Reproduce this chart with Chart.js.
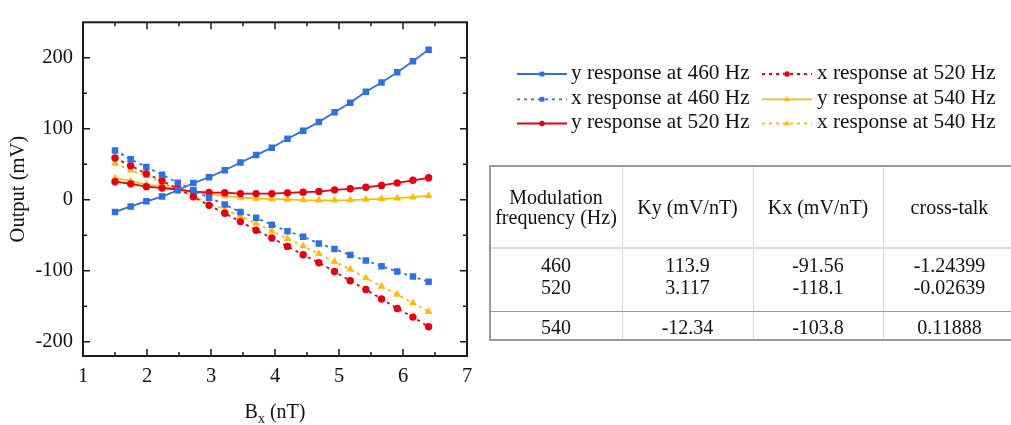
<!DOCTYPE html>
<html><head><meta charset="utf-8">
<script src="https://cdn.jsdelivr.net/npm/chart.js@4"></script>
<style>
html,body{margin:0;padding:0;background:#fff;overflow:hidden;width:1011px;height:425px}
#wrap{position:relative;width:1011px;height:425px;overflow:hidden}
canvas{position:absolute;left:0;top:0}
.t{position:absolute;font-family:'Liberation Serif','Times New Roman',serif;font-size:20px;line-height:20px;white-space:nowrap;color:#111;transform:translate(-50%,-50%)}
.ln{position:absolute}
</style></head><body>
<div id="wrap"><canvas id="c" width="1011" height="425"></canvas><div id="tbl"></div></div>
<script>
// ---- data ----
const bx = [1.5, 1.745, 1.99, 2.235, 2.48, 2.725, 2.97, 3.215, 3.46, 3.705, 3.95, 4.195, 4.44, 4.685, 4.93, 5.175, 5.42, 5.665, 5.91, 6.155, 6.4];
const yResp460 = [-17.1, -9.4, -2.2, 4.6, 13.5, 23.6, 31.8, 41.7, 52.6, 63, 73.4, 86.1, 97.4, 109.7, 123.2, 136.8, 152.2, 165.3, 179.8, 195.2, 211.5];
const xResp460 = [69.5, 57, 46.3, 35.3, 24, 13.4, 2.8, -6.7, -17.1, -25.3, -35.2, -44.3, -52, -61.5, -69.2, -77.8, -85.5, -93.7, -100.9, -108.1, -115.4];
const yResp520 = [25.5, 22.5, 18.5, 16.5, 14.5, 11.5, 10.5, 10, 8.7, 8.7, 8.7, 9.8, 10.8, 11.6, 14, 15.5, 17.6, 20.2, 23.8, 27.5, 31];
const xResp520 = [58.9, 48, 36.8, 26.8, 15.5, 4.3, -7.8, -19, -30.7, -42.9, -53.8, -65.6, -77.4, -88.7, -100.9, -114, -126.3, -139.8, -153, -165.2, -178.8];
const yResp540 = [30.4, 26.6, 21.5, 18.8, 14.8, 10.5, 8.5, 5.5, 3.2, 1.9, 1, 0.5, -0.4, -0.8, -0.8, -0.4, 0.5, 1.4, 2.3, 3.7, 5.8];
const xResp540 = [51.2, 41.5, 33.8, 24, 15, 5, -5.3, -13.5, -23, -33, -43.8, -54.7, -65.1, -76, -87.3, -97.7, -110, -122.2, -133.5, -145.3, -157.5];
const seriesNames = ['y response at 460 Hz', 'x response at 460 Hz', 'y response at 520 Hz', 'x response at 520 Hz', 'y response at 540 Hz', 'x response at 540 Hz'];
const xTicks = [1, 2, 3, 4, 5, 6, 7];
const xMinorTicks = [1.5, 2.5, 3.5, 4.5, 5.5, 6.5];
const yTicks = [-200, -100, 0, 100, 200];
const yMinorTicks = [-150, -50, 50, 150];
const tableHeader = ['Ky (mV/nT)', 'Kx (mV/nT)', 'cross-talk'];
const tableFreqHeader = ['Modulation', 'frequency (Hz)'];
const modFreqs = ['460', '520', '540'];
const kyValues = ['113.9', '3.117', '-12.34'];
const kxValues = ['-91.56', '-118.1', '-103.8'];
const crossTalk = ['-1.24399', '-0.02639', '0.11888'];

// ---- styles ----
const SERIF = "'Liberation Serif','Times New Roman',serif";
const BLUE = '#2c70e2', RED = '#e60012', YELLOW = '#fcbb08';
const defs = [
  {v: yResp460, c: BLUE, dash: [], ps: 'rect', r: 4.6, lr: 3.4},
  {v: xResp460, c: BLUE, dash: [3, 4], ps: 'rect', r: 4.6, lr: 3.4},
  {v: yResp520, c: RED, dash: [], ps: 'circle', r: 3.7, lr: 2.7},
  {v: xResp520, c: RED, dash: [3, 4], ps: 'circle', r: 3.7, lr: 2.7},
  {v: yResp540, c: YELLOW, dash: [], ps: 'triangle', r: 4.5, lr: 3.3},
  {v: xResp540, c: YELLOW, dash: [3, 4], ps: 'triangle', r: 4.5, lr: 3.3}
];
const datasets = defs.map((d, i) => ({
  label: seriesNames[i],
  data: bx.map((x, k) => ({x: x, y: d.v[k]})),
  borderColor: d.c, backgroundColor: d.c,
  borderWidth: 1.8, borderDash: d.dash,
  pointStyle: d.ps, pointRadius: d.r, pointBorderWidth: 0,
  pointBackgroundColor: d.c, tension: 0, legendRadius: d.lr
}));

const framePlugin = {
  id: 'frame',
  afterDraw(chart) {
    const ctx = chart.ctx, a = chart.chartArea;
    const xs = chart.scales.x, ys = chart.scales.y;
    ctx.save();
    ctx.strokeStyle = '#1a1a1a';
    ctx.lineWidth = 2;
    ctx.strokeRect(a.left, a.top, a.right - a.left, a.bottom - a.top);
    ctx.lineWidth = 1.5;
    const tick = (vals, len) => {
      vals.forEach(v => {
        const px = xs.getPixelForValue(v);
        if (px <= a.left + 1 || px >= a.right - 1) return;
        ctx.beginPath();
        ctx.moveTo(px, a.bottom); ctx.lineTo(px, a.bottom - len);
        ctx.moveTo(px, a.top); ctx.lineTo(px, a.top + len);
        ctx.stroke();
      });
    };
    const ytick = (vals, len) => {
      vals.forEach(v => {
        const py = ys.getPixelForValue(v);
        if (py <= a.top + 1 || py >= a.bottom - 1) return;
        ctx.beginPath();
        ctx.moveTo(a.left, py); ctx.lineTo(a.left + len, py);
        ctx.moveTo(a.right, py); ctx.lineTo(a.right - len, py);
        ctx.stroke();
      });
    };
    tick(xTicks, 7); tick(xMinorTicks, 4);
    ytick(yTicks, 7); ytick(yMinorTicks, 4);

    // x-axis title with subscript
    ctx.fillStyle = '#111';
    ctx.textBaseline = 'alphabetic';
    const big = '20px ' + SERIF, small = '14px ' + SERIF;
    ctx.font = big; const wB = ctx.measureText('B').width; const wR = ctx.measureText(' (nT)').width;
    ctx.font = small; const wX = ctx.measureText('x').width;
    const total = wB + wX + wR;
    let x0 = (a.left + a.right) / 2 - total / 2;
    const base = 418;
    ctx.font = big; ctx.textAlign = 'left';
    ctx.fillText('B', x0, base);
    ctx.font = small; ctx.fillText('x', x0 + wB, base + 5);
    ctx.font = big; ctx.fillText(' (nT)', x0 + wB + wX, base);

    // legend (two columns, column-major)
    const colLine = [517, 762], colText = [571, 817];
    const rowLine = [74, 99.3, 123.5], rowBase = [78.8, 103.5, 128.2];
    const legFont = '21.3px ' + SERIF;
    chart.data.datasets.forEach((ds, i) => {
      const col = i < 3 ? 0 : 1, row = i % 3;
      const x1 = colLine[col], x2 = x1 + 50, y = rowLine[row];
      ctx.save();
      ctx.strokeStyle = ds.borderColor; ctx.lineWidth = 1.8;
      ctx.setLineDash(ds.borderDash);
      ctx.beginPath(); ctx.moveTo(x1, y); ctx.lineTo(x2, y); ctx.stroke();
      ctx.setLineDash([]);
      ctx.fillStyle = ds.backgroundColor;
      Chart.helpers.drawPoint(ctx, {pointStyle: ds.pointStyle, radius: ds.legendRadius, rotation: 0, borderWidth: 0}, (x1 + x2) / 2, y);
      ctx.restore();
      ctx.fillStyle = '#111'; ctx.font = legFont; ctx.textAlign = 'left';
      ctx.fillText(ds.label, colText[col], rowBase[row]);
    });
    ctx.restore();
  }
};

new Chart(document.getElementById('c'), {
  type: 'line',
  data: {datasets: datasets},
  options: {
    responsive: false, animation: false, devicePixelRatio: 1,
    layout: {padding: {left: 0, top: 10, right: 544, bottom: 0}},
    plugins: {legend: {display: false}, tooltip: {enabled: false}},
    scales: {
      x: {
        type: 'linear', min: 1, max: 7,
        afterBuildTicks: s => { s.ticks = xTicks.map(v => ({value: v})); },
        afterFit: s => { s.height = 69; },
        grid: {display: false, drawTicks: false}, border: {display: false},
        ticks: {font: {family: SERIF, size: 20.5}, color: '#111', padding: 8, maxRotation: 0, autoSkip: false}
      },
      y: {
        type: 'linear', min: -220, max: 250,
        afterBuildTicks: s => { s.ticks = yTicks.map(v => ({value: v})); },
        afterFit: s => { s.width = 83; },
        grid: {display: false, drawTicks: false}, border: {display: false},
        ticks: {font: {family: SERIF, size: 20.5}, color: '#111', padding: 10},
        title: {display: true, text: 'Output (mV)', font: {family: SERIF, size: 20.5}, color: '#111', padding: {top: 6, bottom: 0}}
      }
    }
  },
  plugins: [framePlugin]
});

// ---- table ----
const tbl = document.getElementById('tbl');
function line(x, y, w, h, c) {
  const d = document.createElement('div'); d.className = 'ln';
  d.style.cssText = `left:${x}px;top:${y}px;width:${w}px;height:${h}px;background:${c}`;
  tbl.appendChild(d);
}
function txt(cx, cy, s) {
  const d = document.createElement('div'); d.className = 't';
  d.style.left = cx + 'px'; d.style.top = cy + 'px'; d.textContent = s;
  tbl.appendChild(d);
}
const colCenters = [556, 687.5, 818, 949.5];
const rowCenters = [264.5, 286.5, 326.5];
[622, 753, 883].forEach(x => line(x, 166, 1, 174, '#d6d6d6'));
line(490, 247, 530, 2, '#dcdcdc');
line(490, 311, 530, 1, '#9a9a9a');
line(490, 165, 530, 2, '#9a9a9a');
line(490, 339, 530, 2, '#9a9a9a');
line(489, 165, 2, 176, '#9a9a9a');
txt(colCenters[0], 196.5, tableFreqHeader[0]);
txt(colCenters[0], 217, tableFreqHeader[1]);
tableHeader.forEach((h, i) => txt(colCenters[i + 1], 207, h));
modFreqs.forEach((f, r) => {
  txt(colCenters[0], rowCenters[r], f);
  txt(colCenters[1], rowCenters[r], kyValues[r]);
  txt(colCenters[2], rowCenters[r], kxValues[r]);
  txt(colCenters[3], rowCenters[r], crossTalk[r]);
});
</script>
</body></html>
